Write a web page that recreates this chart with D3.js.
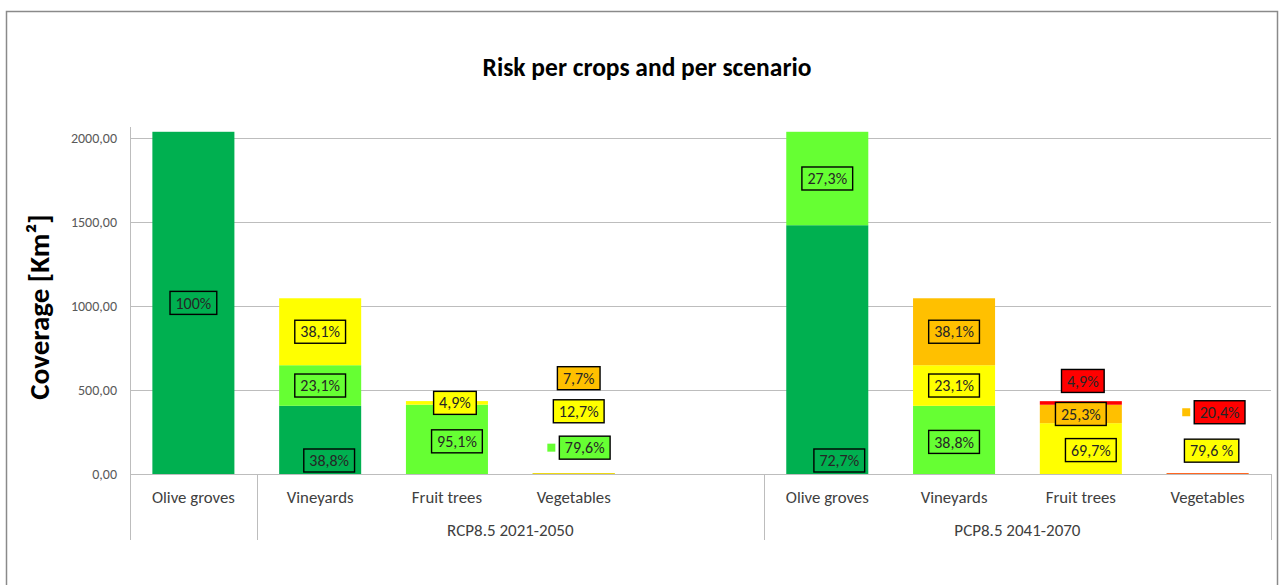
<!DOCTYPE html>
<html>
<head>
<meta charset="utf-8">
<script src="https://cdn.jsdelivr.net/npm/d3@7/dist/d3.min.js"></script>
<style>
  html, body { margin: 0; padding: 0; background: #fff; }
  svg { display: block; font-family: Carlito, Lato, "Noto Sans", sans-serif; }
</style>
</head>
<body>
<svg id="chart" width="1279" height="585"></svg>
<script>
// ---- Data -------------------------------------------------------------
const crops = ["Olive groves", "Vineyards", "Fruit trees", "Vegetables"];
// Cultivated area of each crop (km²)
const cropArea = [2037, 1046, 434, 5];
const riskLevels = ["Very low", "Low", "Moderate", "High", "Very high"];
const riskColors = ["#00B050", "#66FF33", "#FFFF00", "#FFC000", "#FF0000"];
const scenarios = ["RCP8.5 2021-2050", "PCP8.5 2041-2070"];
// Share (%) of each crop's area falling in each risk level
const shareScenario1 = [
  [100, 0, 0, 0, 0],
  [38.8, 23.1, 38.1, 0, 0],
  [0, 95.1, 4.9, 0, 0],
  [0, 79.6, 12.7, 7.7, 0]
];
const shareScenario2 = [
  [72.7, 27.3, 0, 0, 0],
  [0, 38.8, 23.1, 38.1, 0],
  [0, 0, 69.7, 25.3, 4.9],
  [0, 0, 79.6, 0, 20.4]
];
const yTicks = [0, 500, 1000, 1500, 2000];

// ---- Layout -----------------------------------------------------------
const plot = { left: 130, right: 1271, top: 127, bottom: 474, axisBottom: 540 };
const slotCount = 9;                       // 4 crops + gap + 4 crops
const slotOf = (s, c) => s * 5 + c;
// x-axis cell borders (slot boundaries) and the scenario captions below them
const axisDividers = [0, 1, 5, 9];
const groupSpans = [{ label: scenarios[0], from: 1, to: 4 }, { label: scenarios[1], from: 5, to: 8 }];

// Hand placement of some value labels (offsets in px from the segment centre)
const labelNudges = [
  { s: 0, c: 1, l: 0, base: true, dx: 9 },
  { s: 0, c: 2, l: 1, dx: 10, dy: 2 },
  { s: 0, c: 2, l: 2, dx: 8, dy: 0 },
  { s: 0, c: 3, l: 1, dx: 11, dy: -26, key: 1 },
  { s: 0, c: 3, l: 2, dx: 5, dy: -62 },
  { s: 0, c: 3, l: 3, dx: 5, dy: -95 },
  { s: 1, c: 0, l: 0, base: true, dx: 12 },
  { s: 1, c: 1, l: 1, dx: 0, dy: 2 },
  { s: 1, c: 2, l: 2, dx: 10, dy: 1.5 },
  { s: 1, c: 2, l: 4, dx: 2, dy: -22 },
  { s: 1, c: 3, l: 2, dx: 4, dy: -23, spaced: true },
  { s: 1, c: 3, l: 4, dx: 12, dy: -61, key: 3 }
];

const svg = d3.select("#chart");

const x = d3.scaleBand()
  .domain(d3.range(slotCount))
  .range([plot.left, plot.right])
  .paddingInner(0.353)
  .paddingOuter(0.1765);
const step = x.step();
const edge = i => plot.left + i * step;

const y = d3.scaleLinear().domain([0, 2000]).range([plot.bottom, 138]);

const locale = d3.formatLocale({ decimal: ",", thousands: "", grouping: [3], currency: ["", ""] });
const fmtTick = locale.format(".2f");
const fmtPct = v => (Number.isInteger(v) ? String(v) : locale.format(".1f")(v));

// ---- Frame ------------------------------------------------------------
svg.append("rect")
  .attr("x", 6.5).attr("y", 11.5).attr("width", 1271).attr("height", 640)
  .attr("fill", "#fff").attr("stroke", "#8a8a8a").attr("stroke-width", 1.5);

// ---- Title --------------------------------------------------------------
svg.append("text")
  .attr("x", 647).attr("y", 76)
  .attr("text-anchor", "middle")
  .attr("font-size", 25.5).attr("font-weight", "bold").attr("fill", "#000")
  .text("Risk per crops and per scenario");

// ---- Grid + y axis ----------------------------------------------------
const grid = svg.append("g");
grid.selectAll("line.grid")
  .data(yTicks.filter(t => t > 0))
  .join("line")
  .attr("x1", plot.left).attr("x2", plot.right)
  .attr("y1", d => Math.round(y(d)) + 0.5).attr("y2", d => Math.round(y(d)) + 0.5)
  .attr("stroke", "#bdbdbd").attr("stroke-width", 1);

const yAxis = d3.axisLeft(y).tickValues(yTicks).tickFormat(fmtTick).tickSize(0).tickPadding(13);
const yg = svg.append("g").attr("transform", `translate(${plot.left},0)`).call(yAxis);
yg.select(".domain").remove();
yg.selectAll("text").attr("font-size", 14).attr("fill", "#595959")
  .attr("font-family", "Carlito, Lato, sans-serif");

svg.append("text")
  .attr("transform", `translate(49,${307}) rotate(-90)`)
  .attr("text-anchor", "middle")
  .attr("font-size", 29).attr("font-weight", "bold").attr("fill", "#000")
  .text("Coverage [Km²]");

// ---- Stacked bars -----------------------------------------------------
const shares = [shareScenario1, shareScenario2];
const segments = [];
shares.forEach((table, s) => {
  table.forEach((row, c) => {
    let acc = 0;
    row.forEach((pct, l) => {
      const v = cropArea[c] * pct / 100;
      if (pct > 0) segments.push({ s, c, l, pct, y0: acc, y1: acc + v });
      acc += v;
    });
  });
});

svg.append("g").selectAll("rect")
  .data(segments)
  .join("rect")
  .attr("x", d => x(slotOf(d.s, d.c)))
  .attr("width", x.bandwidth())
  .attr("y", d => y(d.y1))
  .attr("height", d => Math.max(y(d.y0) - y(d.y1), 0.6))
  .attr("fill", d => riskColors[d.l]);

// ---- x axis -------------------------------------------------------------
const xa = svg.append("g").attr("stroke", "#bdbdbd").attr("stroke-width", 1);
xa.append("line")
  .attr("x1", plot.left).attr("x2", plot.right)
  .attr("y1", plot.bottom + 0.5).attr("y2", plot.bottom + 0.5);
xa.append("line")
  .attr("x1", plot.left + 0.5).attr("x2", plot.left + 0.5)
  .attr("y1", plot.top).attr("y2", plot.axisBottom);
xa.selectAll("line.div")
  .data(axisDividers.slice(1))
  .join("line")
  .attr("x1", d => Math.round(edge(d)) + 0.5).attr("x2", d => Math.round(edge(d)) + 0.5)
  .attr("y1", plot.bottom).attr("y2", plot.axisBottom);

const catLabels = [];
scenarios.forEach((sc, s) => crops.forEach((name, c) => catLabels.push({ slot: slotOf(s, c), name })));
svg.append("g").selectAll("text")
  .data(catLabels)
  .join("text")
  .attr("x", d => x(d.slot) + x.bandwidth() / 2)
  .attr("y", 503)
  .attr("text-anchor", "middle")
  .attr("font-size", 16.8).attr("fill", "#404040")
  .text(d => d.name);

svg.append("g").selectAll("text")
  .data(groupSpans)
  .join("text")
  .attr("x", d => (edge(d.from) + edge(d.to + 1)) / 2)
  .attr("y", 536)
  .attr("text-anchor", "middle")
  .attr("font-size", 17).attr("fill", "#404040")
  .text(d => d.label);

// ---- Value labels -------------------------------------------------------
const labelG = svg.append("g");
segments.forEach(d => {
  const n = labelNudges.find(o => o.s === d.s && o.c === d.c && o.l === d.l) || {};
  const cx = x(slotOf(d.s, d.c)) + x.bandwidth() / 2 + (n.dx || 0);
  const cy = n.base ? y(d.y0) - 13.5 : (y(d.y0) + y(d.y1)) / 2 + (n.dy || 0);
  const g = labelG.append("g").attr("transform", `translate(${cx},${cy})`);
  const box = g.append("rect");
  const t = g.append("text")
    .attr("text-anchor", "middle")
    .attr("dy", "0.35em")
    .attr("font-size", 16).attr("fill", "#262626")
    .text(fmtPct(d.pct) + (n.spaced ? " %" : "%"));
  const w = t.node().getComputedTextLength() + 11;
  const h = 23;
  box.attr("x", -w / 2).attr("y", -h / 2).attr("width", w).attr("height", h)
    .attr("fill", riskColors[d.l]).attr("stroke", "#000").attr("stroke-width", 1.4);
  if (n.key !== undefined) {
    g.append("rect")
      .attr("x", -w / 2 - 12).attr("y", -4).attr("width", 8).attr("height", 8)
      .attr("fill", riskColors[n.key]);
  }
});
</script>
</body>
</html>
